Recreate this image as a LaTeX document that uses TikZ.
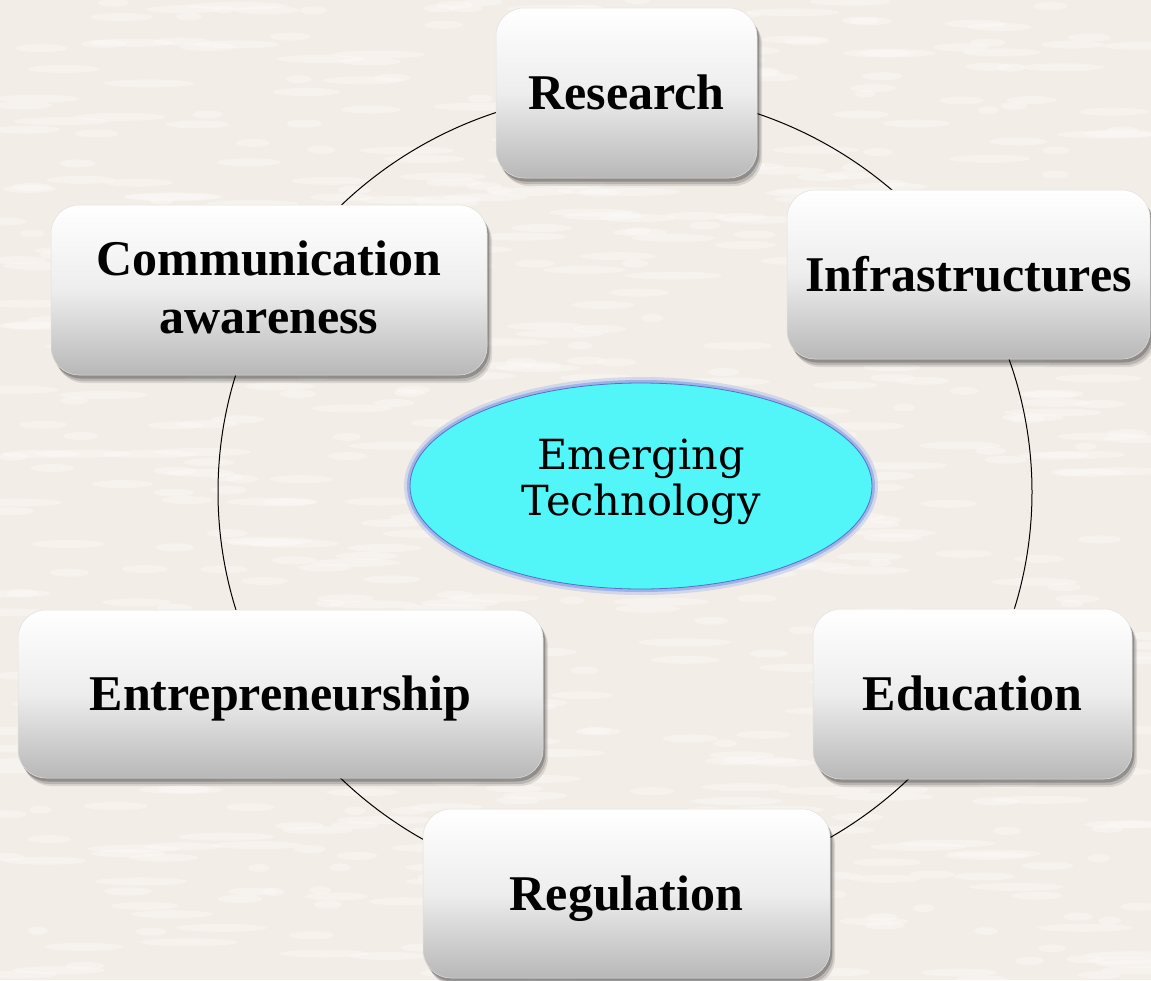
\documentclass[tikz,border=0pt]{standalone}
\usepackage{fontspec}
\setmainfont{Liberation Serif}
\newfontfamily\ellfont{DejaVu Serif}
\usetikzlibrary{shapes.geometric,shadows}
\definecolor{paper}{HTML}{F3EDE7}
\definecolor{cyanfill}{RGB}{82,246,248}
\definecolor{glow}{RGB}{95,135,232}
\tikzset{
  box/.style={rounded corners=28pt, inner sep=0pt, align=center,
    font=\fontsize{50}{58}\selectfont\bfseries,
    text height=33pt, text depth=0pt,
    top color=white, bottom color=black!28, middle color=black!7,
    draw=black!12, line width=0.5pt,
    general shadow={shadow xshift=5pt, shadow yshift=-8pt, fill=black, opacity=0.10},
    general shadow={shadow xshift=3.5pt, shadow yshift=-6pt, fill=black, opacity=0.15},
    general shadow={shadow xshift=2pt, shadow yshift=-3.5pt, fill=black, opacity=0.22}},
  ringline/.style={draw=black, line width=1pt, ellipse, inner sep=0pt},
  core/.style={ellipse, inner sep=0pt, fill=cyanfill, draw=glow!85!black, line width=0.8pt,
    preaction={draw=glow, line width=12pt, draw opacity=0.22},
    preaction={draw=glow, line width=6pt, draw opacity=0.45},
    align=center, font=\ellfont\fontsize{41.5}{46}\selectfont,
    text height=90pt, text depth=31pt}
}
\begin{document}
\begin{tikzpicture}[x=1pt,y=-1pt]
\useasboundingbox (0,0) rectangle (1151,980);
\fill[paper] (0,0) rectangle (1151,980);
\pgfmathsetseed{11}
\foreach \i in {1,...,700}{
  \pgfmathsetmacro\xx{rnd*1151}
  \pgfmathsetmacro\yy{rnd*980}
  \pgfmathsetmacro\ll{10+rnd*40}
  \fill[white, opacity=0.28] (\xx,\yy) ellipse [x radius=\ll pt, y radius=4pt];
}

\node[ringline, minimum width=814pt, minimum height=800pt] (ring) at (625,492) {};

\node[box, minimum width=261pt, minimum height=170pt] (research) at (626.5,93) {Research};
\node[box, minimum width=363pt, minimum height=169pt] (infra) at (968.5,274.5) {Infrastructures};
\node[box, minimum width=436pt, minimum height=170pt, text height=87pt] (comm) at (269,290) {Communication\\awareness};
\node[box, minimum width=525pt, minimum height=168pt] (entre) at (280.5,694) {Entrepreneurship};
\node[box, minimum width=319pt, minimum height=170pt] (edu) at (972.5,694) {Education};
\node[box, minimum width=407pt, minimum height=169pt] (reg) at (626.5,893.5) {Regulation};

\node[core, minimum width=462pt, minimum height=206pt] (emerg) at (641,486) {Emerging\\Technology};
\end{tikzpicture}
\end{document}
